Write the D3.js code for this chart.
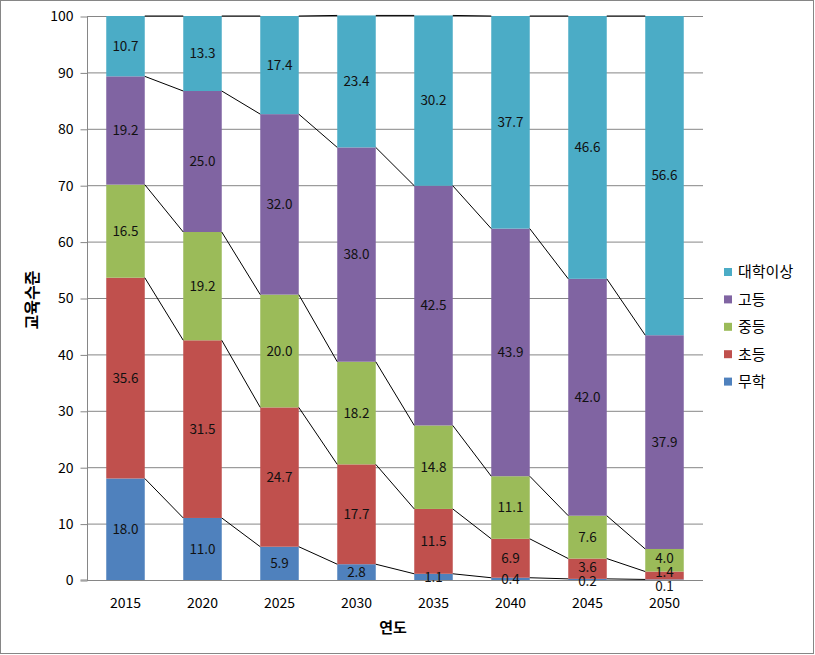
<!DOCTYPE html>
<html><head><meta charset="utf-8">
<script src="https://cdn.jsdelivr.net/npm/d3@7"></script>
<style>body{margin:0;background:#fff}svg{display:block}</style>
</head><body>
<svg id="c" width="815" height="655"></svg>
<script>
const years = ["2015","2020","2025","2030","2035","2040","2045","2050"];
const seriesNames = ["무학","초등","중등","고등","대학이상"];
const muhak   = [18.0, 11.0, 5.9, 2.8, 1.1, 0.4, 0.2, 0.1];
const chodeung = [35.6, 31.5, 24.7, 17.7, 11.5, 6.9, 3.6, 1.4];
const jungdeung = [16.5, 19.2, 20.0, 18.2, 14.8, 11.1, 7.6, 4.0];
const godeung = [19.2, 25.0, 32.0, 38.0, 42.5, 43.9, 42.0, 37.9];
const daehak  = [10.7, 13.3, 17.4, 23.4, 30.2, 37.7, 46.6, 56.6];
const yTicks = [0,10,20,30,40,50,60,70,80,90,100];
const colors = ["#4F81BD","#C0504D","#9BBB59","#8064A2","#4BACC6"];

const seriesVals = [muhak, chodeung, jungdeung, godeung, daehak];
const rows = years.map((y,i)=>{const o={year:y}; seriesNames.forEach((s,k)=>o[s]=seriesVals[k][i]); return o;});
const stack = d3.stack().keys(seriesNames)(rows);

const svg = d3.select("#c");
const font = "'Noto Sans CJK KR', 'Malgun Gothic', sans-serif";
const L=87, R=703, T=16, B=580;

svg.append("rect").attr("x",0.5).attr("y",0.5).attr("width",813).attr("height",653)
  .attr("fill","#fff").attr("stroke","#868686");

const x = d3.scaleBand().domain(years).range([L,R]).paddingInner(0.5).paddingOuter(0.25);
const y = d3.scaleLinear().domain([0,100]).range([B,T]);

// gridlines
svg.append("g").selectAll("line").data(yTicks.filter(t=>t>0)).join("line")
  .attr("x1",L).attr("x2",R).attr("y1",d=>y(d)+0.5).attr("y2",d=>y(d)+0.5)
  .attr("stroke","#868686").attr("stroke-width",1);

// y axis
const yAxis = d3.axisLeft(y).tickValues(yTicks).tickSize(7).tickPadding(7).tickFormat(d3.format("d"));
const ga = svg.append("g").attr("transform",`translate(${L+0.5},0.5)`).call(yAxis);
ga.select(".domain").attr("stroke","#868686").attr("d",`M-7,${B-0.5}H0V${T-0.5}`);
ga.selectAll(".tick line").attr("stroke","#868686");
ga.selectAll(".tick text").attr("font-family",font).attr("font-size",14).attr("fill","#000");

// bars
const gb = svg.append("g");
stack.forEach((s,k)=>{
  gb.append("g").attr("fill",colors[k]).selectAll("rect").data(s).join("rect")
    .attr("x",d=>x(d.data.year)).attr("width",x.bandwidth())
    .attr("y",d=>y(d[1])).attr("height",d=>y(d[0])-y(d[1]));
});

// series lines
const gl = svg.append("g");
stack.forEach((s,k)=>{
  for(let i=0;i<s.length-1;i++){
    gl.append("line")
      .attr("x1",x(years[i])+x.bandwidth()).attr("x2",x(years[i+1]))
      .attr("y1",y(s[i][1])).attr("y2",y(s[i+1][1]))
      .attr("stroke","#000").attr("stroke-width",1);
  }
});

// x axis
const gx = svg.append("g").attr("transform",`translate(0,${B+0.5})`);
gx.append("line").attr("x1",L).attr("x2",R).attr("stroke","#868686");
gx.selectAll("text").data(years).join("text")
  .attr("x",d=>x(d)+x.bandwidth()/2).attr("y",27)
  .attr("text-anchor","middle").attr("font-family",font).attr("font-size",14).attr("fill","#000")
  .text(d=>d);

// data labels with overlap relaxation
const gt = svg.append("g");
years.forEach((yr,i)=>{
  const labs = stack.map((s,k)=>({v:seriesVals[k][i], c:y((s[i][0]+s[i][1])/2)}));
  const pos = labs.map(l=>l.c);
  for(let it=0;it<50;it++){
    for(let k=0;k<pos.length-1;k++){
      const gap = pos[k]-pos[k+1];
      if(gap<14){const d=(14-gap)/2; pos[k]+=d; pos[k+1]-=d;}
    }
  }
  labs.forEach((l,k)=>{
    gt.append("text").attr("x",x(yr)+x.bandwidth()/2).attr("y",pos[k])
      .attr("dy","0.36em").attr("text-anchor","middle")
      .attr("font-family",font).attr("font-size",13.5).attr("fill","#111")
      .text(d3.format(".1f")(l.v));
  });
});

// axis titles
svg.append("text").attr("transform","translate(38,300) rotate(-90)")
  .attr("text-anchor","middle").attr("font-family",font).attr("font-size",16).attr("font-weight","bold")
  .text("교육수준");
svg.append("text").attr("x",393).attr("y",633).attr("text-anchor","middle")
  .attr("font-family",font).attr("font-size",15).attr("font-weight","bold").text("연도");

// legend (reverse order)
const leg = svg.append("g");
const order = [4,3,2,1,0];
order.forEach((k,j)=>{
  const yy = 272 + j*27.4;
  leg.append("rect").attr("x",724).attr("y",yy-4).attr("width",8).attr("height",8).attr("fill",colors[k]);
  leg.append("text").attr("x",738).attr("y",yy).attr("dy","0.36em")
    .attr("font-family",font).attr("font-size",15).attr("fill","#000").text(seriesNames[k]);
});
</script>
</body></html>
